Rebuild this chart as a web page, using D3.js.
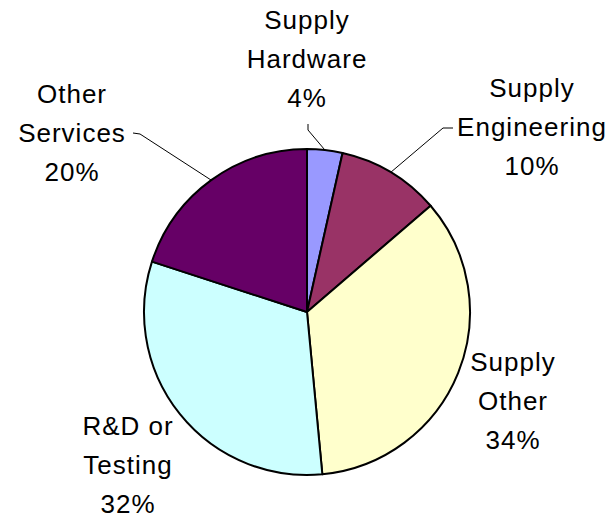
<!DOCTYPE html>
<html>
<head>
<meta charset="utf-8">
<script src="https://cdn.jsdelivr.net/npm/d3@7"></script>
<style>
  body { margin: 0; background: #fff; }
  text { font-family: "Liberation Sans", Arial, sans-serif; font-size: 26px; letter-spacing: 1px; fill: #000; }
</style>
</head>
<body>
<div id="chart"></div>
<script>
// slice data, clockwise from 12 o'clock
const categories = ['Supply Hardware', 'Supply Engineering', 'Supply Other', 'R&D or Testing', 'Other Services'];
const labelLines = [['Supply', 'Hardware'], ['Supply', 'Engineering'], ['Supply', 'Other'], ['R&D or', 'Testing'], ['Other', 'Services']];
const percentLabels = ['4%', '10%', '34%', '32%', '20%'];
const values = [3.5, 10.2, 34.8, 31.5, 20.0];
const colours = ['#9999ff', '#993366', '#ffffcc', '#ccffff', '#660066'];

const width = 614;
const height = 520;
const cx = 307, cy = 312, radius = 163;

// label layout: centre x, first baseline, elbow of the leader line (if any)
const labelLayout = [
  { x: 307, y: 29, leader: [[308, 124], [308, 130]] },
  { x: 532, y: 97, leader: [[453, 128], [443, 128]] },
  { x: 513, y: 371, leader: null },
  { x: 128, y: 435, leader: null },
  { x: 72, y: 103, leader: [[133, 133], [140, 134]] }
];
const lineGap = 39;

const svg = d3.select('#chart').append('svg')
  .attr('width', width)
  .attr('height', height);

const g = svg.append('g')
  .attr('transform', 'translate(' + cx + ',' + cy + ')');

const pie = d3.pie().sort(null).value(d => d);
const arcs = pie(values);

const arc = d3.arc().innerRadius(0).outerRadius(radius);
const edge = d3.arc().innerRadius(radius).outerRadius(radius);

g.selectAll('path.slice')
  .data(arcs)
  .enter().append('path')
    .attr('class', 'slice')
    .attr('fill', (d, i) => colours[i])
    .attr('stroke', '#000')
    .attr('stroke-width', 2)
    .attr('stroke-linejoin', 'round')
    .attr('d', arc);

// leader lines
arcs.forEach((d, i) => {
  const lay = labelLayout[i];
  if (!lay.leader) return;
  const p = edge.centroid(d);
  const pts = [lay.leader[0], lay.leader[1], [p[0] + cx, p[1] + cy]];
  svg.append('path')
    .attr('fill', 'none')
    .attr('stroke', '#000')
    .attr('stroke-width', 1)
    .attr('d', d3.line()(pts));
});

// labels
arcs.forEach((d, i) => {
  const lay = labelLayout[i];
  const lines = labelLines[i].concat([percentLabels[i]]);
  const t = svg.append('text')
    .attr('text-anchor', 'middle');
  lines.forEach((s, j) => {
    t.append('tspan')
      .attr('x', lay.x)
      .attr('y', lay.y + j * lineGap)
      .text(s);
  });
});
</script>
</body>
</html>
